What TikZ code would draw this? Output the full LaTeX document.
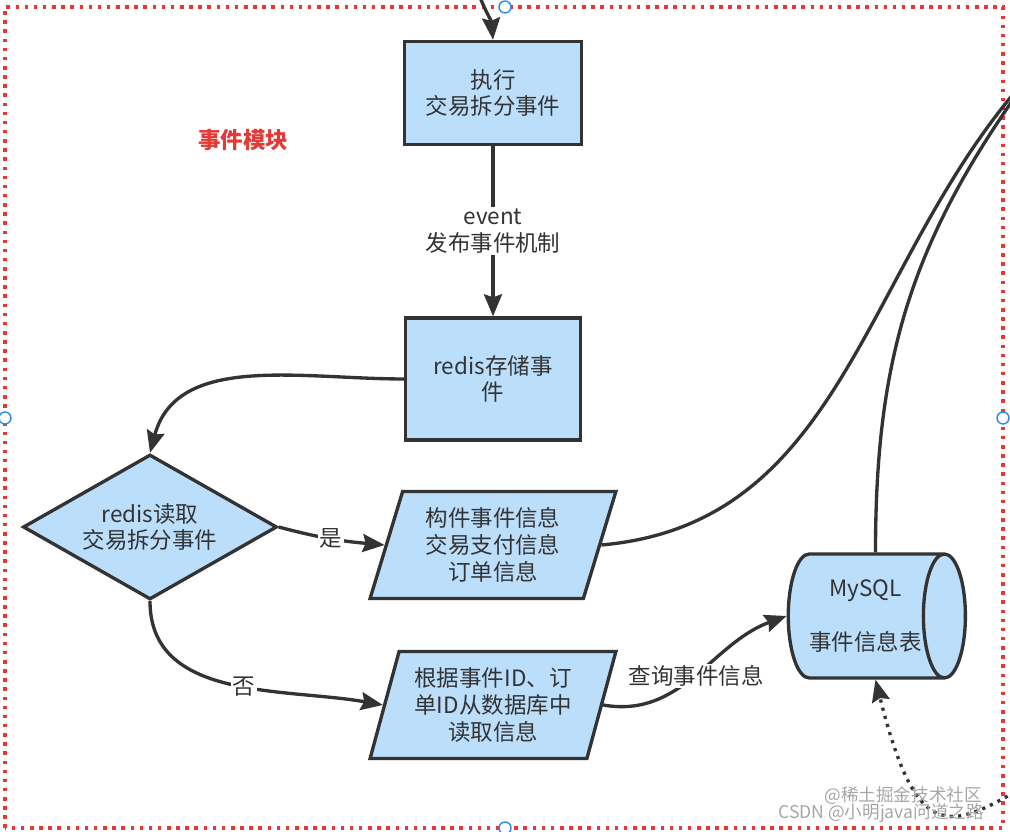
\documentclass[tikz,border=0pt]{standalone}
\usepackage{fontspec}
\usepackage{tkz-euclide}
\setmainfont{Noto Sans CJK SC}
\usetikzlibrary{shapes.geometric,arrows.meta}
\definecolor{boxfill}{HTML}{BBDEFB}
\definecolor{boxline}{HTML}{333333}
\definecolor{modred}{HTML}{E53935}
\definecolor{handblue}{HTML}{2B8CE8}
\tikzset{>={Stealth[length=0.44cm,width=0.36cm,inset=0.06cm]}}
\tikzset{
  flowbox/.style={draw=boxline, fill=boxfill, line width=1.9pt, align=center, text=boxline},
  choice/.style={flowbox, diamond, aspect=1.75, minimum width=5.08cm, minimum height=2.9cm, inner sep=0pt},
  databox/.style={flowbox, trapezium, trapezium left angle=72, trapezium right angle=108,
    trapezium stretches=true, minimum width=4.92cm, minimum height=2.14cm, inner sep=0pt},
  dbshape/.style={flowbox, cylinder, shape aspect=0.58, cylinder uses custom fill,
    cylinder body fill=boxfill, cylinder end fill=boxfill, minimum width=2.48cm,
    minimum height=3.1cm, inner sep=0pt},
  link/.style={draw=boxline, line width=1.9pt},
  tag/.style={fill=white, align=center, text=boxline, inner sep=1pt},
  handle/.style={draw=handblue, fill=white, line width=0.8pt}
}

\begin{document}
\begin{tikzpicture}[every node/.style={font=\fontsize{12.8}{15.3}\selectfont}]
\useasboundingbox (0,0) rectangle (20.2,16.64);
\tkzDefPoints{9.86/14.78/E, 9.86/9.06/R, 3.0/6.1/D, 9.86/5.74/P, 9.86/2.54/Q, 17.31/4.32/S}
\tkzDefPoints{9.56/16.8/T, 20.3/14.8/U, 20.3/14.7/V, 20.3/0.8/W}
% frame of the module
\draw[modred, line width=2pt, dash pattern=on 2pt off 3.2pt] (0.1,0.08) rectangle (20.06,16.5);
\node[text=modred, font=\fontsize{12.8}{15.3}\selectfont\bfseries] (title) at (4.86,13.84) {事件模块};
\node[flowbox, minimum width=3.54cm, minimum height=2.06cm] (exec) at (E) {执行\\交易拆分事件};
\node[flowbox, minimum width=3.5cm, minimum height=2.44cm] (store) at (R) {redis存储事\\件};
\node[choice] (read) at (D) {redis读取\\交易拆分事件};
\node[databox] (build) at (P) {构件事件信息\\交易支付信息\\订单信息};
\node[databox] (query) at (Q) {根据事件ID、订\\单ID从数据库中\\读取信息};
\node[dbshape] (mysql) at (S) {MySQL\\ \\事件信息表};
% connectors
\draw[link,->] (T) to[out=-70,in=95] (exec.north);
\draw[link,->] (exec) -- node[tag]{event\\发布事件机制} (store);
\draw[link,->] (store.west) to[out=180,in=75] (read.north);
\draw[link,->] (read.east) to[out=-15,in=175] node[tag]{是} (build.west);
\draw[link,->] (read.south) to[out=-90,in=170] node[tag,pos=0.55]{否} (query.west);
\draw[link,->] (query.east) to[out=-10,in=200] node[tag]{查询事件信息} (mysql.west);
\draw[link] (build.east) to[out=5,in=230] (U);
\draw[link] ([xshift=0.2cm]mysql.north) to[out=90,in=235] (V);
\draw[link,->,dash pattern=on 1.8pt off 3pt] (W) .. controls (18.9,0.0) and (18.3,-0.1) .. ([xshift=0.2cm]mysql.south);
% selection handles
\foreach \x/\y in {10.1/16.5, 0.1/8.28, 20.06/8.28, 10.1/0.08}
  \draw[handle] (\x,\y) circle (0.12);
% watermark
\node[anchor=east, text=gray!70, font=\fontsize{10}{12}\selectfont] (wma) at (19.76,0.72) {@稀土掘金技术社区};
\node[anchor=east, text=gray!70, font=\fontsize{10}{12}\selectfont] (wmb) at (19.8,0.38) {CSDN @小明java问道之路};
\end{tikzpicture}
\end{document}
